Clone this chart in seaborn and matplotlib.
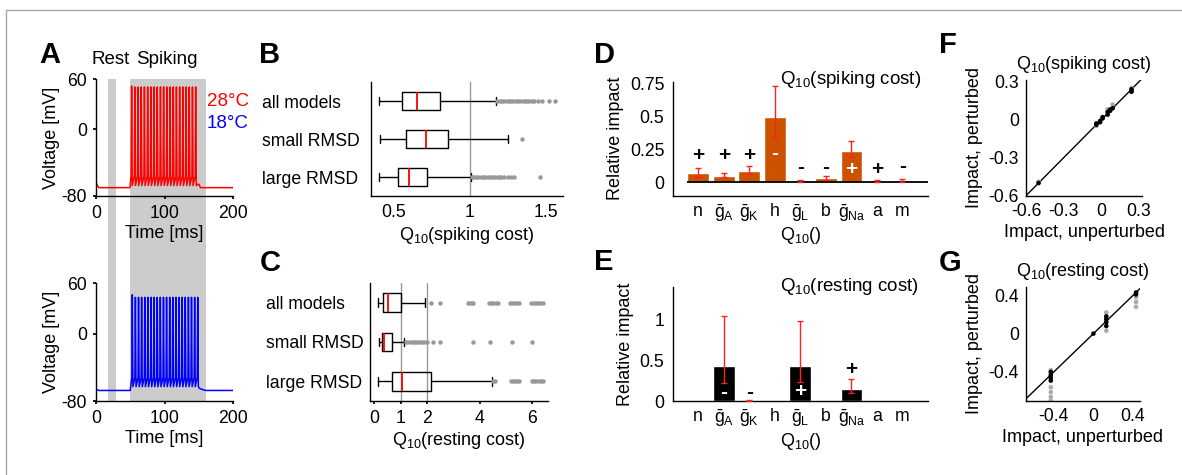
import numpy as np
import pandas as pd
import matplotlib
matplotlib.use('Agg')
import matplotlib.pyplot as plt
import matplotlib.transforms as mtransforms
from matplotlib.patches import Rectangle
from matplotlib.lines import Line2D
import seaborn as sns

# ---------------- data ----------------
# Panel A: voltage traces (ms, mV)
red_pre_t = [0, 4, 49.6, 50.6]
red_pre_v = [-64, -70, -70, -61]
red_spike_t = [52.0, 56.7, 61.3, 66.0, 70.7, 75.4, 80.0, 84.7, 89.4, 94.1, 98.7,
               103.4, 108.1, 112.8, 117.4, 122.1, 126.8, 131.5, 136.1, 140.8, 145.5]
red_spike_peak = [51.5, 50.5, 50.5, 50.5, 50.5, 50.5, 50.5, 50.5, 50.5, 50.5, 50.5,
                  50.5, 50.5, 50.5, 50.5, 50.5, 50.5, 50.5, 50.5, 50.5, 50.5]
red_trough = -67.5
red_bump = -56
red_post_t = [148.5, 150.2, 152.5, 200]
red_post_v = [-66, -66, -70, -70]

blue_pre_t = [0, 4, 50.0, 51.0]
blue_pre_v = [-66, -67.5, -67.5, -60]
blue_spike_t = [53.0, 57.5, 62.1, 66.6, 71.2, 75.7, 80.3, 84.8, 89.4, 93.9, 98.5,
                103.0, 107.6, 112.1, 116.7, 121.2, 125.8, 130.3, 134.9, 139.4, 144.0, 148.5]
blue_spike_peak = [46, 43, 43, 43, 43, 43, 43, 43, 43, 43, 43,
                   43, 43, 43, 43, 43, 43, 43, 43, 43, 43, 43]
blue_trough = -63
blue_bump = -52
blue_post_t = [150.5, 152.0, 160.0, 200]
blue_post_v = [-64.5, -65.5, -67.5, -67.5]

rest_band = (17.5, 29.0)
spike_band = (49.6, 160.6)

# Panels B, C: box statistics
box_labels = ['all models', 'small RMSD', 'large RMSD']
B_whislo = [0.40, 0.41, 0.40]
B_q1 = [0.553, 0.579, 0.53]
B_med = [0.651, 0.711, 0.60]
B_q3 = [0.80, 0.857, 0.72]
B_whishi = [1.171, 1.25, 1.005]
B_fliers_all = [1.18, 1.195, 1.21, 1.225, 1.24, 1.255, 1.27, 1.285, 1.30, 1.315, 1.33,
                1.345, 1.36, 1.375, 1.39, 1.405, 1.42, 1.445, 1.47, 1.515, 1.56]
B_fliers_small = [1.34]
B_fliers_large = [1.01, 1.025, 1.04, 1.055, 1.07, 1.085, 1.10, 1.115, 1.13, 1.145, 1.16,
                  1.175, 1.19, 1.205, 1.22, 1.25, 1.27, 1.29, 1.46]

C_whislo = [0.15, 0.19, 0.15]
C_q1 = [0.32, 0.30, 0.66]
C_med = [0.51, 0.38, 1.06]
C_q3 = [1.00, 0.66, 2.17]
C_whishi = [1.92, 1.14, 4.46]
C_fliers_all = [2.14, 2.5, 3.55, 3.62, 3.70, 3.77, 4.37, 4.45, 4.53, 4.62, 4.70,
                5.16, 5.25, 5.33, 5.42, 5.50, 5.96, 6.05, 6.14, 6.22, 6.31, 6.40]
C_fliers_small = [1.2, 1.29, 1.38, 1.46, 1.53, 1.61, 1.70, 1.80, 1.90, 1.99, 2.22, 2.5,
                  3.77, 4.40, 5.22, 6.0]
C_fliers_large = [4.50, 4.60, 5.19, 5.27, 5.35, 5.43, 5.51, 5.98, 6.07, 6.16, 6.25, 6.33, 6.40]

# Panels D, E: relative impact per parameter
params = ['n', r'$\bar{g}_A$', r'$\bar{g}_K$', 'h', r'$\bar{g}_L$', 'b',
          r'$\bar{g}_{Na}$', 'a', 'm']
D_vals = [0.075, 0.052, 0.087, 0.495, 0.010, 0.037, 0.237, 0.010, 0.010]
D_err_lo = [0.040, 0.040, 0.060, 0.335, 0.005, 0.022, 0.190, 0.005, 0.003]
D_err_hi = [0.112, 0.068, 0.127, 0.725, 0.020, 0.047, 0.315, 0.015, 0.025]
D_signs = ['+', '+', '+', '-', '-', '-', '+', '+', '-']
D_sign_y = [0.20, 0.20, 0.20, 0.215, 0.112, 0.112, 0.10, 0.10, 0.117]
D_sign_white = [False, False, False, True, False, False, True, False, False]

E_vals = [0.005, 0.427, 0.003, 0.005, 0.430, 0.005, 0.146, 0.005, 0.005]
E_err_lo = [np.nan, 0.215, 0.0, np.nan, 0.230, np.nan, 0.094, np.nan, np.nan]
E_err_hi = [np.nan, 1.040, 0.010, np.nan, 0.975, np.nan, 0.264, np.nan, np.nan]
E_signs = ['', '-', '-', '', '+', '', '+', '', '']
E_sign_y = [0, 0.11, 0.11, 0, 0.12, 0, 0.39, 0, 0]
E_sign_white = [False, True, False, False, True, False, False, False, False]

# Panels F, G: impact perturbed vs unperturbed
F_gray_x = [-0.50, -0.04, 0.05, 0.09, 0.24]
F_gray_y = [-0.49, -0.05, 0.08, 0.12, 0.25]
F_black_x = [-0.50, -0.04, -0.04, -0.01, -0.01, 0.01, 0.01, 0.05, 0.05, 0.07, 0.07,
             0.09, 0.24, 0.24, 0.24]
F_black_y = [-0.50, -0.04, -0.03, -0.01, -0.02, 0.01, 0.02, 0.04, 0.06, 0.07, 0.08,
             0.09, 0.22, 0.23, 0.24]

G_gray_x = [-0.43, -0.43, -0.43, -0.43, -0.43, 0.13, 0.13, 0.43, 0.43, 0.43]
G_gray_y = [-0.38, -0.56, -0.61, -0.66, -0.70, 0.03, 0.22, 0.38, 0.33, 0.28]
G_black_x = [-0.43, -0.43, -0.43, -0.43, 0.0, 0.13, 0.13, 0.13, 0.13, 0.43, 0.43]
G_black_y = [-0.40, -0.43, -0.46, -0.49, 0.0, 0.08, 0.12, 0.15, 0.18, 0.41, 0.43]

# ---------------- style ----------------
sns.set_theme(style='ticks')
plt.rcParams['font.family'] = ['Liberation Sans', 'DejaVu Sans']
plt.rcParams['mathtext.default'] = 'regular'
plt.rcParams['axes.unicode_minus'] = False
plt.rcParams.update({
    'font.size': 12.7, 'axes.labelsize': 13, 'xtick.labelsize': 12.7,
    'ytick.labelsize': 12.7, 'axes.linewidth': 1.0, 'axes.edgecolor': 'black',
    'xtick.major.size': 2.5, 'ytick.major.size': 2.5, 'xtick.major.pad': 4,
    'ytick.major.pad': 4, 'xtick.color': 'black', 'ytick.color': 'black',
    'text.color': 'black', 'axes.labelcolor': 'black',
})

W, H = 1182, 475
fig = plt.figure(figsize=(W / 100, H / 100), dpi=100)


def add_ax(left, top, right, bottom):
    return fig.add_axes([left / W, 1 - bottom / H, (right - left) / W, (bottom - top) / H])


axA1 = add_ax(96, 79, 233, 196)
axA2 = add_ax(96, 283, 233, 401)
axB = add_ax(371, 82, 563, 196)
axC = add_ax(370, 283, 548, 401)
axD = add_ax(672.7, 81.7, 928, 195.7)
axE = add_ax(672.7, 286.7, 928, 401)
axF = add_ax(1026, 80, 1142.3, 195.7)
axG = add_ax(1026, 286.7, 1140, 400.7)

# frame lines
fig.add_artist(Line2D([6 / W, 1], [1 - 10 / H, 1 - 10 / H], transform=fig.transFigure,
                      color='#a8a8a8', lw=1))
fig.add_artist(Line2D([6 / W, 6 / W], [0, 1 - 10 / H], transform=fig.transFigure,
                      color='#a8a8a8', lw=1))


# ---------------- Panel A ----------------
def build_trace(pre_t, pre_v, spikes, peaks, trough, bump, post_t, post_v):
    t = list(pre_t)
    v = list(pre_v)
    for s, p in zip(spikes, peaks):
        t += [s - 0.7, s, s + 0.9]
        v += [bump, p, trough]
    t += list(post_t)
    v += list(post_v)
    return pd.DataFrame({'t': t, 'v': v})


red_df = build_trace(red_pre_t, red_pre_v, red_spike_t, red_spike_peak, red_trough,
                     red_bump, red_post_t, red_post_v)
blue_df = build_trace(blue_pre_t, blue_pre_v, blue_spike_t, blue_spike_peak, blue_trough,
                      blue_bump, blue_post_t, blue_post_v)

for ax, df, col in [(axA1, red_df, '#ff0000'), (axA2, blue_df, '#0000ff')]:
    ax.set_facecolor('none')
    sns.lineplot(data=df, x='t', y='v', color=col, lw=1.1, estimator=None, sort=False, ax=ax)
    ax.set_xlim(0, 200)
    ax.set_ylim(-80, 60)
    ax.set_xticks([0, 100, 200])
    ax.set_yticks([-80, 0, 60])
    ax.set_xticklabels(['0', '100', '200'])
    ax.set_yticklabels(['-80', '0', '60'])
    ax.set_xlabel('Time [ms]', labelpad=2)
    ax.set_ylabel('Voltage [mV]', labelpad=1)
    sns.despine(ax=ax)

band_tr = mtransforms.blended_transform_factory(axA1.transData, fig.transFigure)
for (t0, t1) in [rest_band, spike_band]:
    fig.add_artist(Rectangle((t0, 1 - 401 / H), t1 - t0, (401 - 79) / H, transform=band_tr,
                             facecolor='#cccccc', edgecolor='none', zorder=-1))

fig.text(110.5 / W, 1 - 59 / H, 'Rest', ha='center', va='center', fontsize=13.5)
fig.text(166.5 / W, 1 - 59 / H, 'Spiking', ha='center', va='center', fontsize=13.5)
fig.text(207 / W, 1 - 101 / H, '28°C', color='#ff0000', ha='left', va='center', fontsize=13.5)
fig.text(207 / W, 1 - 123 / H, '18°C', color='#0000ff', ha='left', va='center', fontsize=13.5)


# ---------------- Panels B, C ----------------
def draw_boxes(ax, lo, q1, med, q3, hi, fliers):
    stats = []
    for i in range(len(lo)):
        stats.append(dict(whislo=lo[i], q1=q1[i], med=med[i], q3=q3[i], whishi=hi[i],
                          fliers=fliers[i]))
    kw = dict(positions=list(range(len(stats))), widths=0.47, showfliers=True,
              boxprops=dict(color='black', lw=1.0),
              medianprops=dict(color='#ff0000', lw=1.3),
              whiskerprops=dict(color='black', lw=1.0),
              capprops=dict(color='black', lw=1.0),
              flierprops=dict(marker='o', markersize=3.2, markerfacecolor='#999999',
                              markeredgecolor='none', linestyle='none'),
              capwidths=0.22, manage_ticks=False)
    try:
        ax.bxp(stats, orientation='horizontal', **kw)
    except TypeError:
        ax.bxp(stats, vert=False, **kw)


draw_boxes(axB, B_whislo, B_q1, B_med, B_q3, B_whishi,
           [B_fliers_all, B_fliers_small, B_fliers_large])
axB.axvline(1, color='#999999', lw=1, zorder=0)
axB.set_xlim(0.35, 1.61)
axB.set_ylim(2.5, -0.5)
axB.set_xticks([0.5, 1, 1.5])
axB.set_xticklabels(['0.5', '1', '1.5'])
axB.set_yticks([0, 1, 2])
axB.set_yticklabels(box_labels, ha='left')
axB.tick_params(axis='y', length=0, pad=78.7)
axB.tick_params(axis='x', length=0, pad=6)
axB.set_xlabel('Q$_{10}$(spiking cost)', labelpad=3)
sns.despine(ax=axB)

draw_boxes(axC, C_whislo, C_q1, C_med, C_q3, C_whishi,
           [C_fliers_all, C_fliers_small, C_fliers_large])
axC.axvline(1, color='#999999', lw=1, zorder=0)
axC.axvline(2, color='#999999', lw=1, zorder=0)
axC.set_xlim(-0.16, 6.6)
axC.set_ylim(2.5, -0.5)
axC.set_xticks([0, 1, 2, 4, 6])
axC.set_xticklabels(['0', '1', '2', '4', '6'])
axC.set_yticks([0, 1, 2])
axC.set_yticklabels(box_labels, ha='left')
axC.tick_params(axis='y', length=0, pad=74.9)
axC.set_xlabel('Q$_{10}$(resting cost)', labelpad=2)
sns.despine(ax=axC)


# ---------------- Panels D, E ----------------
def draw_bars(ax, vals, lo, hi, signs, sign_y, sign_white, color):
    df = pd.DataFrame({'param': params, 'val': vals})
    sns.barplot(data=df, x='param', y='val', color=color, saturation=1, width=0.85,
                errorbar=None, ax=ax)
    lo = np.asarray(lo, float)
    hi = np.asarray(hi, float)
    pos = np.arange(len(params))
    ok = np.isfinite(lo)
    ax.errorbar(pos[ok], (lo[ok] + hi[ok]) / 2, yerr=(hi[ok] - lo[ok]) / 2, fmt='none',
                ecolor='#ff2020', elinewidth=1.0, capsize=2, capthick=1.0, zorder=3)
    for i, s in enumerate(signs):
        if s:
            ax.text(pos[i], sign_y[i], s, ha='center', va='center', fontsize=15,
                    fontweight='bold', color='white' if sign_white[i] else 'black',
                    zorder=4)
    ax.set_xlim(-1, 9)
    ax.set_xlabel('Q$_{10}$()', labelpad=1)
    ax.set_ylabel('Relative impact', labelpad=4)
    ax.tick_params(axis='x', length=0, pad=5)
    ax.tick_params(axis='y', length=0, pad=6)
    sns.despine(ax=ax)


draw_bars(axD, D_vals, D_err_lo, D_err_hi, D_signs, D_sign_y, D_sign_white, '#cc5200')
axD.hlines(0, -0.45, 9, color='black', lw=1.3, zorder=2)
axD.set_ylim(-0.1, 0.76)
axD.set_yticks([0, 0.25, 0.5, 0.75])
axD.set_yticklabels(['0', '0.25', '0.5', '0.75'])
axD.text(0.42, 1.02, 'Q$_{10}$(spiking cost)', transform=axD.transAxes, ha='left',
         va='center', fontsize=13.5)

draw_bars(axE, E_vals, E_err_lo, E_err_hi, E_signs, E_sign_y, E_sign_white, 'black')
axE.set_ylim(0, 1.4)
axE.set_yticks([0, 0.5, 1])
axE.set_yticklabels(['0', '0.5', '1'])
axE.text(0.42, 1.0, 'Q$_{10}$(resting cost)', transform=axE.transAxes, ha='left',
         va='center', fontsize=13.5)


# ---------------- Panels F, G ----------------
def draw_scatter(ax, gx, gy, bx, by, lims, ticks, labels, title):
    ax.axline((0, 0), slope=1, color='black', lw=1.0, zorder=1)
    sns.scatterplot(x=gx, y=gy, color='#aaaaaa', s=11, edgecolor='none', ax=ax, zorder=2)
    sns.scatterplot(x=bx, y=by, color='black', s=11, edgecolor='none', ax=ax, zorder=3)
    ax.set_xlim(lims[0])
    ax.set_ylim(lims[1])
    ax.set_xticks(ticks)
    ax.set_yticks(ticks)
    ax.set_xticklabels(labels)
    ax.set_yticklabels(labels)
    ax.tick_params(length=0, pad=5)
    ax.set_xlabel('Impact, unperturbed', labelpad=3)
    ax.set_ylabel('Impact, perturbed', labelpad=4)
    ax.set_title(title, fontsize=13, pad=8)
    sns.despine(ax=ax)


draw_scatter(axF, F_gray_x, F_gray_y, F_black_x, F_black_y,
             [(-0.6, 0.326), (-0.6, 0.313)], [-0.6, -0.3, 0, 0.3],
             ['-0.6', '-0.3', '0', '0.3'], 'Q$_{10}$(spiking cost)')
draw_scatter(axG, G_gray_x, G_gray_y, G_black_x, G_black_y,
             [(-0.68, 0.47), (-0.70, 0.49)], [-0.4, 0, 0.4],
             ['-0.4', '0', '0.4'], 'Q$_{10}$(resting cost)')

# ---------------- panel letters ----------------
for letter, x, y in [('A', 50, 55), ('B', 270, 55), ('C', 270, 263), ('D', 605, 55),
                     ('E', 604, 262), ('F', 948, 45), ('G', 950, 263)]:
    fig.text(x / W, 1 - y / H, letter, ha='center', va='center', fontsize=21,
             fontweight='bold')

fig.savefig('out.png', dpi=100)
